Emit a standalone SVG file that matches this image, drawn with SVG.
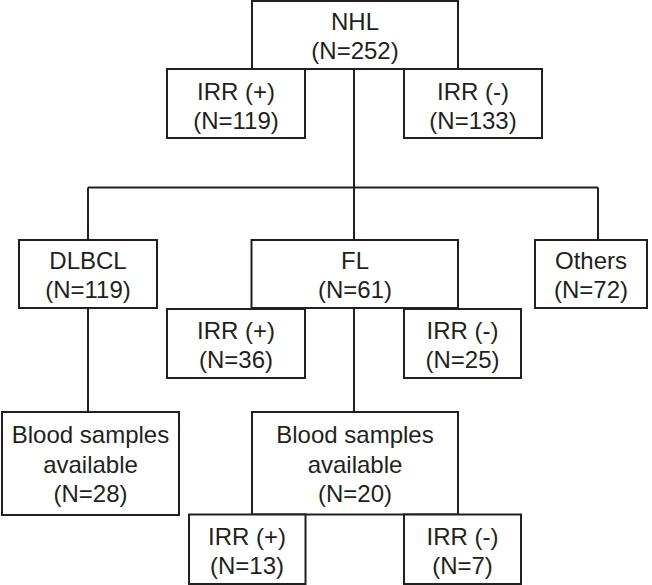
<svg xmlns="http://www.w3.org/2000/svg" width="652" height="585" viewBox="0 0 652 585">
<style>
.box{fill:#fff;stroke:#231f20;stroke-width:2}
.ln{fill:none;stroke:#231f20;stroke-width:2}
text{font-family:"Liberation Sans",Arial,Helvetica,sans-serif;font-size:24px;fill:#231f20;text-anchor:middle}
</style>
<rect width="652" height="585" fill="#fff"/>
<g id="connectors">
<path class="ln" d="M354,69 V187.5 M88,187.5 H598 M88,187.5 V240 M354,187.5 V240 M598,187.5 V240"/>
<path class="ln" d="M354,308 V412 M88,308 V412"/>
</g>
<g id="nhl"><rect class="box" x="252" y="1" width="206" height="68"/><text x="355" y="30">NHL</text><text x="355" y="59">(N=252)</text></g>
<g id="irr-pos-all"><rect class="box" x="167" y="69" width="138" height="69"/><text x="236" y="100">IRR (+)</text><text x="236" y="129">(N=119)</text></g>
<g id="irr-neg-all"><rect class="box" x="404" y="69" width="138" height="69"/><text x="473" y="100">IRR (-)</text><text x="473" y="129">(N=133)</text></g>
<g id="dlbcl"><rect class="box" x="19" y="240" width="138" height="68"/><text x="88" y="269">DLBCL</text><text x="88" y="298">(N=119)</text></g>
<g id="fl"><rect class="box" x="251.5" y="240" width="206.5" height="68"/><text x="355" y="269">FL</text><text x="355" y="298">(N=61)</text></g>
<g id="others"><rect class="box" x="535" y="240" width="112" height="68"/><text x="591" y="269">Others</text><text x="591" y="298">(N=72)</text></g>
<g id="fl-irr-pos"><rect class="box" x="167" y="309" width="138" height="69"/><text x="236" y="339">IRR (+)</text><text x="236" y="368">(N=36)</text></g>
<g id="fl-irr-neg"><rect class="box" x="404" y="309" width="117" height="69"/><text x="462.5" y="339">IRR (-)</text><text x="462.5" y="368">(N=25)</text></g>
<g id="dlbcl-blood"><rect class="box" x="2" y="412" width="177" height="103"/><text x="90.5" y="443">Blood samples</text><text x="90.5" y="472.5">available</text><text x="90.5" y="501.5">(N=28)</text></g>
<g id="fl-blood"><rect class="box" x="252" y="412" width="206" height="102.5"/><text x="355" y="443">Blood samples</text><text x="355" y="472.5">available</text><text x="355" y="501.5">(N=20)</text></g>
<g id="blood-irr-pos"><rect class="box" x="189" y="514.5" width="116.5" height="69.5"/><text x="247" y="545">IRR (+)</text><text x="247" y="574">(N=13)</text></g>
<g id="blood-irr-neg"><rect class="box" x="404" y="514.5" width="117" height="69.5"/><text x="462.5" y="545">IRR (-)</text><text x="462.5" y="574">(N=7)</text></g>
</svg>
